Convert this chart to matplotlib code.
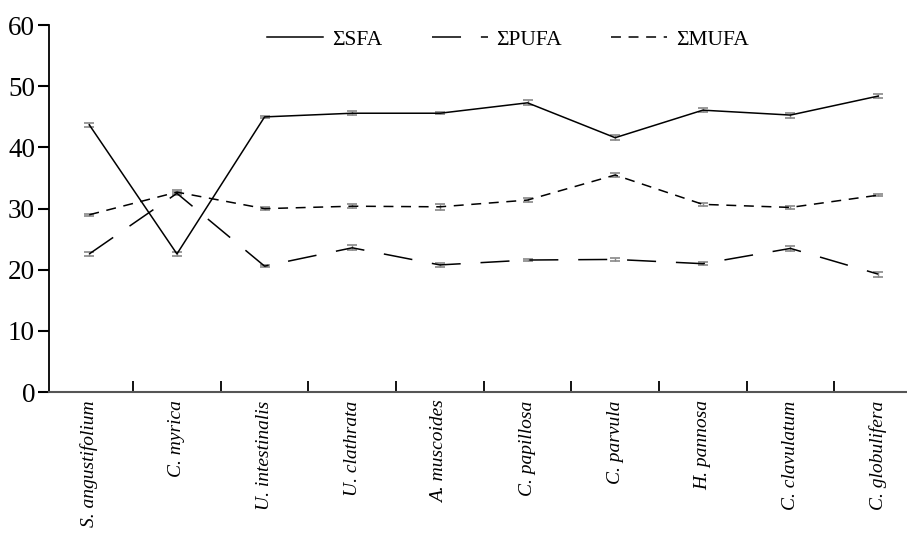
import numpy as np
import matplotlib.pyplot as plt
from matplotlib.lines import Line2D
from matplotlib.ticker import FixedLocator

species = ['S. angustifolium', 'C. myrica', 'U. intestinalis', 'U. clathrata',
           'A. muscoides', 'C. papillosa', 'C. parvula', 'H. pannosa',
           'C. clavulatum', 'C. globulifera']
sfa = [43.7, 22.6, 45.0, 45.6, 45.6, 47.3, 41.6, 46.1, 45.3, 48.4]
sfa_err = [0.3, 0.3, 0.2, 0.3, 0.2, 0.4, 0.4, 0.3, 0.4, 0.3]
pufa = [22.6, 32.5, 20.6, 23.6, 20.8, 21.6, 21.7, 21.0, 23.5, 19.3]
pufa_err = [0.3, 0.3, 0.2, 0.4, 0.3, 0.2, 0.2, 0.2, 0.4, 0.4]
mufa = [29.0, 32.7, 30.0, 30.4, 30.3, 31.4, 35.5, 30.7, 30.2, 32.2]
mufa_err = [0.2, 0.3, 0.2, 0.3, 0.5, 0.3, 0.3, 0.3, 0.3, 0.2]

plt.rcParams['font.family'] = ['Liberation Serif', 'DejaVu Serif']

fig = plt.figure(figsize=(9.07, 5.35), dpi=100)
ax = fig.add_axes([0.054, 0.267, 0.946, 0.686])

x = np.arange(len(species))
lw = 1.1
pufa_dash = (19, 13)
mufa_dash = (6.5, 5)
ekw = dict(ecolor='#888888', elinewidth=1.0, capsize=3.5, capthick=1.2)
ax.errorbar(x, sfa, yerr=sfa_err, color='black', lw=lw, ls='-', **ekw)
ax.errorbar(x, pufa, yerr=pufa_err, color='black', lw=lw, dashes=pufa_dash, **ekw)
ax.errorbar(x, mufa, yerr=mufa_err, color='black', lw=lw, dashes=mufa_dash, **ekw)

# legend handles without the error bar caps
handles = [Line2D([], [], color='black', lw=lw, ls='-'),
           Line2D([], [], color='black', lw=lw, dashes=pufa_dash),
           Line2D([], [], color='black', lw=lw, dashes=mufa_dash)]
ax.legend(handles, ['ΣSFA', 'ΣPUFA', 'ΣMUFA'], loc='center',
          bbox_to_anchor=(0.535, 0.96), ncol=3, frameon=False,
          fontsize=15.5, handlelength=2.6, handletextpad=0.4, columnspacing=2.3)

ax.set_ylim(0, 60)
ax.set_xlim(-0.46, 9.33)
ax.set_yticks(range(0, 61, 10))
ax.tick_params(axis='y', labelsize=19.5, length=8, width=1.5, direction='out', pad=2)

ax.set_xticks(x)
ax.set_xticklabels(species, rotation=90, fontstyle='italic', fontsize=14)
ax.tick_params(axis='x', which='major', length=0, pad=6)
ax.xaxis.set_minor_locator(FixedLocator(x[:-1] + 0.5))
ax.tick_params(axis='x', which='minor', length=8, width=1.3, direction='in')

ax.spines['top'].set_visible(False)
ax.spines['right'].set_visible(False)
ax.spines['left'].set_linewidth(1.3)
ax.spines['bottom'].set_linewidth(1.5)
ax.spines['bottom'].set_color('#555555')

fig.savefig('out.png', dpi=100)
